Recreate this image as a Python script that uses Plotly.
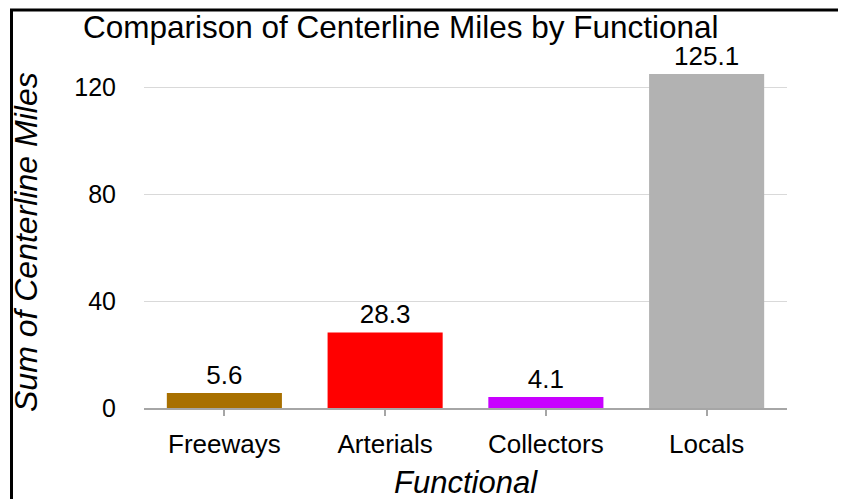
import plotly.graph_objects as go

categories = ["Freeways", "Arterials", "Collectors", "Locals"]
values = [5.6, 28.3, 4.1, 125.1]
bar_colors = ["#A87000", "#FF0000", "#C800FF", "#B2B2B2"]
y_ticks = [0, 40, 80, 120]

# page body has an 8px margin; work in screenshot pixels and convert
OFF = 8
W, H = 846 - OFF, 499 - OFF
ML, MR, MT, MB = 144 - OFF, 59, 61 - OFF, 91
PW, PH = W - ML - MR, H - MT - MB


def px(x):
    return (x - OFF - ML) / PW


def py(y):
    return (H - MB - (y - OFF)) / PH


FONT = "Liberation Sans, Arial, sans-serif"

fig = go.Figure(
    go.Bar(
        x=categories,
        y=values,
        marker=dict(color=bar_colors, line=dict(width=0)),
        text=[f"{v:.1f}" for v in values],
        textposition="outside",
        textfont=dict(size=26, color="black", family=FONT),
        cliponaxis=False,
    )
)

shapes = [
    dict(type="line", xref="paper", yref="paper", x0=px(11.5), x1=px(11.5), y0=py(10), y1=py(510),
         line=dict(color="black", width=3)),
    dict(type="line", xref="paper", yref="paper", x0=px(10), x1=px(845), y0=py(10), y1=py(10),
         line=dict(color="black", width=3)),
    dict(type="line", xref="paper", yref="paper", x0=px(843.5), x1=px(843.5), y0=py(10), y1=py(510),
         line=dict(color="black", width=3)),
]

fig.update_layout(
    width=W,
    height=H,
    margin=dict(l=ML, r=MR, t=MT, b=MB, autoexpand=False),
    paper_bgcolor="white",
    plot_bgcolor="white",
    showlegend=False,
    bargap=0.284,
    font=dict(family=FONT, color="black", size=25),
    shapes=shapes,
    annotations=[
        dict(text="Comparison of Centerline Miles by Functional", xref="paper", yref="paper",
             x=px(401), y=py(27), xanchor="center", yanchor="middle", showarrow=False,
             font=dict(size=31.5, family=FONT, color="black")),
        dict(text="<i>Sum of Centerline Miles</i>", xref="paper", yref="paper",
             x=px(26), y=py(242), xanchor="center", yanchor="middle", textangle=-90, showarrow=False,
             font=dict(size=32, family=FONT, color="black")),
        dict(text="<i>Functional</i>", xref="paper", yref="paper",
             x=px(466), y=py(482), xanchor="center", yanchor="middle", showarrow=False,
             font=dict(size=31, family=FONT, color="black")),
    ],
)

fig.update_xaxes(
    range=[-0.5, 3.5],
    showline=True,
    linecolor="#A6A6A6",
    linewidth=1.5,
    ticks="outside",
    ticklen=6,
    tickcolor="#A6A6A6",
    tickwidth=1.5,
    showgrid=False,
    tickfont=dict(size=26, family=FONT, color="black"),
    ticklabelstandoff=6,
)
fig.update_yaxes(
    range=[0, 130],
    tickvals=y_ticks,
    showgrid=True,
    gridcolor="#D9D9D9",
    gridwidth=1,
    zeroline=False,
    showline=False,
    ticks="",
    tickfont=dict(size=25, family=FONT, color="black"),
    ticklabelstandoff=27,
)

fig.write_html("out.html")
